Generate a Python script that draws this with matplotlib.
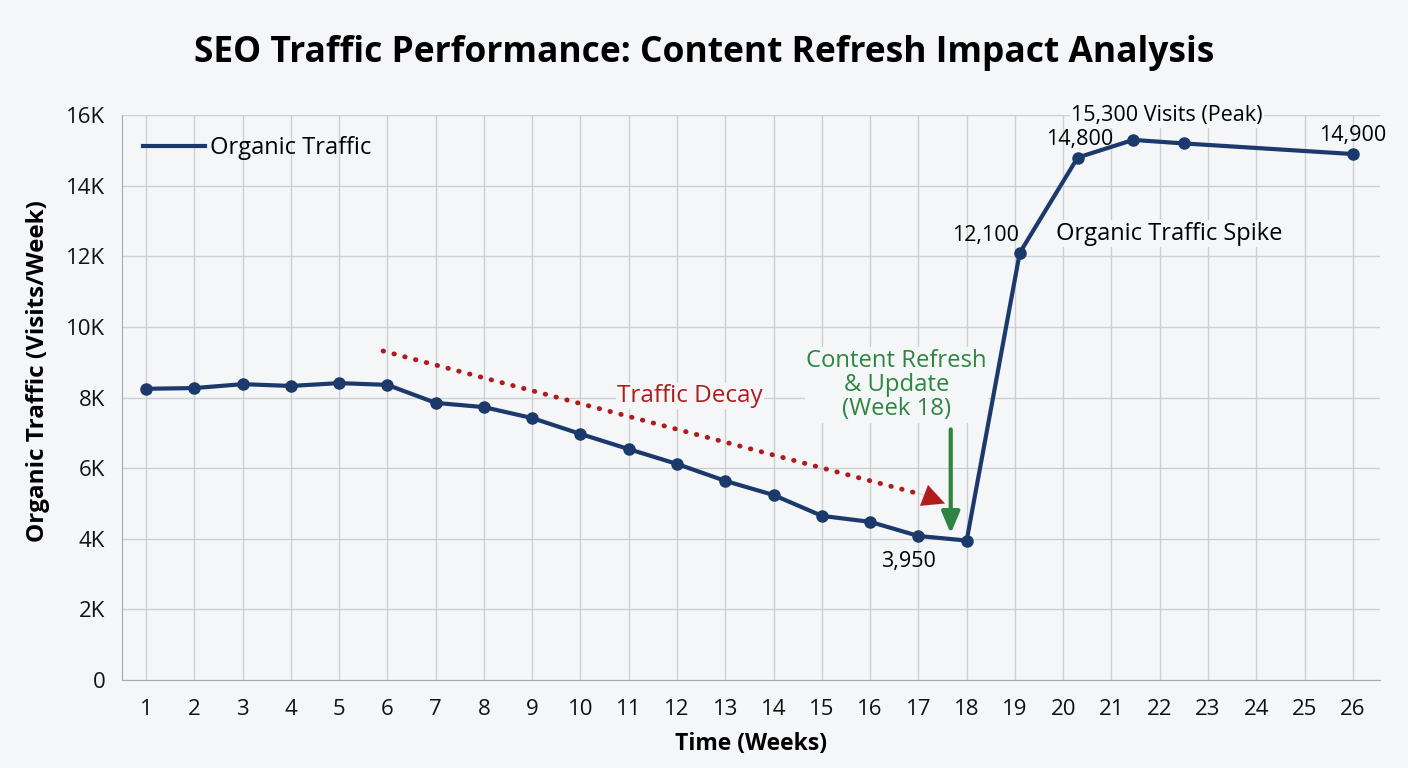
import matplotlib
matplotlib.use("Agg")
import matplotlib.pyplot as plt
from matplotlib.ticker import FuncFormatter

plt.rcParams["font.family"] = ["Open Sans", "DejaVu Sans"]

# data
weeks = [1, 2, 3, 4, 5, 6, 7, 8, 9, 10, 11, 12, 13, 14, 15, 16, 17, 18,
         19.1, 20.3, 21.45, 22.5, 26]
visits = [8250, 8270, 8380, 8330, 8410, 8360, 7850, 7730, 7420, 6970, 6540,
          6120, 5640, 5240, 4650, 4480, 4080, 3950,
          12100, 14800, 15300, 15200, 14900]
week_ticks = list(range(1, 27))
y_ticks = [0, 2000, 4000, 6000, 8000, 10000, 12000, 14000, 16000]

BG = "#f4f6f8"
NAVY = "#1b3a6b"
RED = "#b01c1c"
GREEN = "#2e8540"
GRID = "#cdd0d3"

fig = plt.figure(figsize=(14.08, 7.68), dpi=100)
fig.patch.set_facecolor(BG)
ax = fig.add_axes([0.0866, 0.1146, 0.8934, 0.7354])
ax.set_facecolor(BG)

ax.plot(weeks, visits, color=NAVY, linewidth=3, marker="o", markersize=8,
        label="Organic Traffic", zorder=4)

ax.set_xlim(0.5, 26.56)
ax.set_ylim(0, 16000)
ax.set_xticks(week_ticks)
ax.set_yticks(y_ticks)
ax.yaxis.set_major_formatter(FuncFormatter(lambda v, _: "0" if v == 0 else f"{v/1000:.0f}K"))
ax.tick_params(axis="both", length=0, labelsize=16, colors="#111111")
ax.tick_params(axis="x", pad=14)
ax.tick_params(axis="y", pad=12)
ax.grid(True, color=GRID, linewidth=1)
ax.set_axisbelow(True)
for side in ["top", "right"]:
    ax.spines[side].set_visible(False)
for side in ["left", "bottom"]:
    ax.spines[side].set_color("#aaaaaa")

ax.set_xlabel("Time (Weeks)", fontsize=16.5, fontweight="bold", labelpad=8)
ax.set_ylabel("Organic Traffic (Visits/Week)", fontsize=17.5, fontweight="bold")
ax.yaxis.set_label_coords(-0.057, 0.547)
fig.suptitle("SEO Traffic Performance: Content Refresh Impact Analysis",
             fontsize=25.5, fontweight="bold", y=0.955)

leg = ax.legend(loc="upper left", frameon=False, fontsize=17, handlelength=2.6,
                handletextpad=0.25, borderaxespad=0.5)
for h in leg.legend_handles:
    h.set_marker("")

# traffic decay trend (dotted line + arrow head)
ax.plot([5.91, 17.0], [9320, 5280], color=RED, linewidth=3.5,
        linestyle=(0, (0.1, 2.2)), dash_capstyle="round", zorder=3)
ax.annotate("", xy=(17.55, 5000), xytext=(17.0, 5290),
            arrowprops=dict(arrowstyle="-|>,head_length=1.6,head_width=0.8",
                            color=RED, linewidth=0.1, shrinkA=0, shrinkB=0))
ax.text(12.27, 8045, "Traffic Decay", color=RED, fontsize=17.5, ha="center", va="center",
        bbox=dict(facecolor=BG, edgecolor="none", pad=1))

# content refresh marker
ax.annotate("", xy=(17.67, 4150), xytext=(17.67, 7100),
            arrowprops=dict(arrowstyle="-|>,head_length=1.3,head_width=0.55",
                            color=GREEN, linewidth=3, shrinkA=0, shrinkB=0))
ax.text(16.55, 8360, "Content Refresh\n& Update\n(Week 18)", color=GREEN,
        fontsize=17.2, ha="center", va="center", linespacing=1.02,
        bbox=dict(facecolor=BG, edgecolor="none", pad=1))

# point labels
ax.text(16.8, 3350, "3,950", fontsize=15.5, ha="center", va="center")
ax.text(18.4, 12580, "12,100", fontsize=15.5, ha="center", va="center")
ax.text(20.35, 15300, "14,800", fontsize=15.5, ha="center", va="center")
ax.text(22.15, 15980, "15,300 Visits (Peak)", fontsize=15.5, ha="center", va="center",
        bbox=dict(facecolor=BG, edgecolor="none", pad=1))
ax.text(26.0, 15420, "14,900", fontsize=15.5, ha="center", va="center")
ax.text(22.2, 12640, "Organic Traffic Spike", fontsize=17, ha="center", va="center",
        bbox=dict(facecolor=BG, edgecolor="none", pad=1))

fig.savefig("out.png", dpi=100, facecolor=BG)
